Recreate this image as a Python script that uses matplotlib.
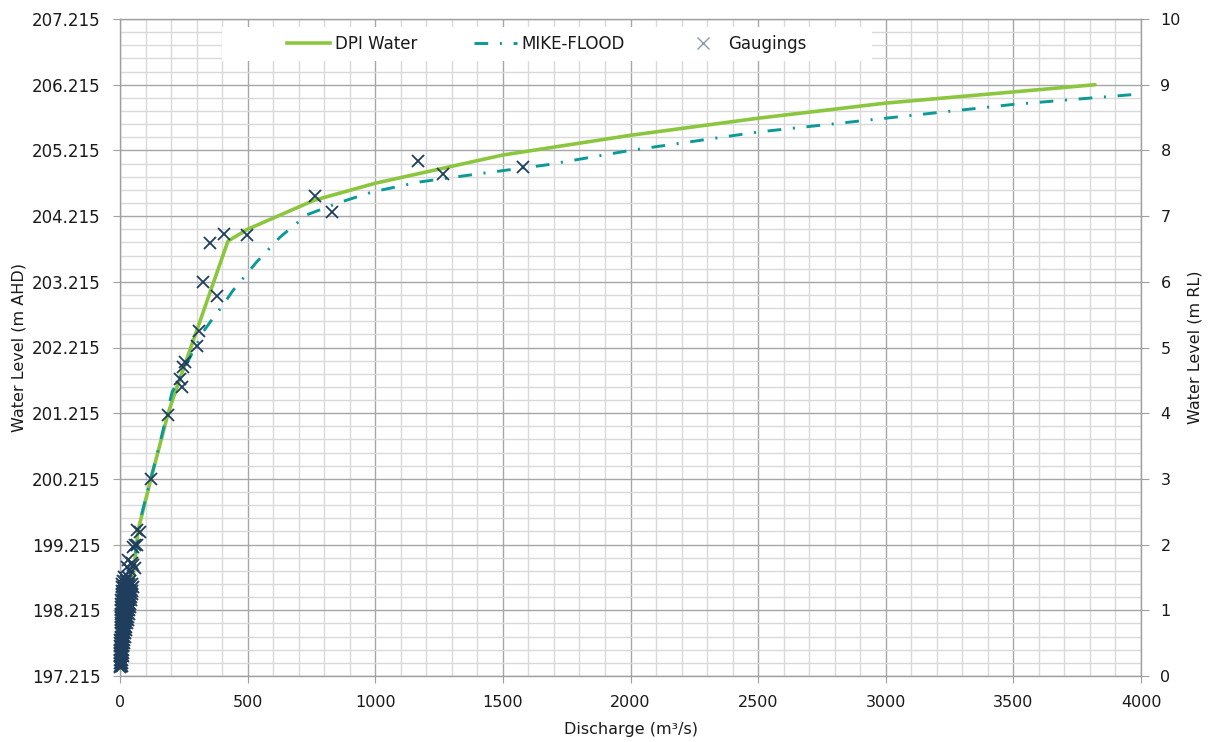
import matplotlib
matplotlib.use("Agg")
import matplotlib.pyplot as plt
from matplotlib.lines import Line2D
from matplotlib.patches import Rectangle
from matplotlib.ticker import MultipleLocator, FuncFormatter

# ---------------- data ----------------
dpi_q = [0, 2, 5, 12, 25, 40, 51, 71, 121, 188, 210, 423, 500, 760, 1000, 1500,
         2000, 2500, 3000, 3500, 3820]
dpi_rl = [0.10, 0.30, 0.50, 0.80, 1.10, 1.35, 1.50, 2.22, 3.00, 3.99, 4.25, 6.62,
          6.80, 7.24, 7.50, 7.93, 8.23, 8.49, 8.72, 8.89, 9.00]

mike_q = [0, 2, 5, 12, 25, 40, 50, 86, 157, 204, 326, 365, 404, 443, 535, 627,
          732, 862, 991, 1175, 1398, 1672, 2000, 2500, 3000, 3500, 4000]
mike_rl = [0.10, 0.30, 0.50, 0.80, 1.10, 1.40, 1.60, 2.48, 3.55, 4.32, 5.24, 5.45,
           5.65, 5.87, 6.30, 6.68, 7.02, 7.21, 7.37, 7.52, 7.64, 7.78, 8.00, 8.28,
           8.49, 8.70, 8.86]

# individual gaugings (higher flows)
gauge_q = [1578, 1266, 1169, 829, 764, 498, 407, 352, 381, 326, 309, 301, 255, 248,
           235, 244, 189, 122, 66, 78, 59, 52, 67, 31, 47, 59, 39, 51, 27, 0]
gauge_rl = [7.75, 7.64, 7.84, 7.07, 7.31, 6.71, 6.72, 6.59, 5.78, 6.00, 5.25, 5.02,
            4.78, 4.71, 4.52, 4.40, 3.97, 3.00, 2.22, 2.19, 1.99, 1.96, 1.99, 1.77,
            1.72, 1.64, 1.61, 1.69, 1.66, 0.14]

# dense cluster of low-flow gaugings
low_q = [0, 3, 6, 0, 4, 8, 0, 4, 9, 0, 5, 10, 0, 5, 11, 1, 6, 12, 1, 7, 13,
         1, 8, 15, 1, 8, 16, 2, 10, 18, 2, 11, 20, 2, 12, 22, 2, 13, 24,
         3, 10, 18, 27, 3, 11, 20, 30, 3, 12, 22, 32, 3, 13, 23, 34,
         4, 14, 25, 36, 4, 15, 26, 38, 5, 16, 28, 40, 5, 17, 30, 42,
         6, 18, 31, 44, 6, 19, 32, 46, 7, 20, 34, 48, 7, 20, 35, 50,
         8, 22, 36, 48, 10, 24, 38, 14, 30]
low_rl = [0.15, 0.15, 0.15, 0.20, 0.20, 0.20, 0.25, 0.25, 0.25, 0.30, 0.30, 0.30,
          0.35, 0.35, 0.35, 0.40, 0.40, 0.40, 0.45, 0.45, 0.45,
          0.50, 0.50, 0.50, 0.55, 0.55, 0.55, 0.60, 0.60, 0.60, 0.65, 0.65, 0.65,
          0.70, 0.70, 0.70, 0.75, 0.75, 0.75,
          0.80, 0.80, 0.80, 0.80, 0.85, 0.85, 0.85, 0.85, 0.90, 0.90, 0.90, 0.90,
          0.95, 0.95, 0.95, 0.95, 1.00, 1.00, 1.00, 1.00, 1.05, 1.05, 1.05, 1.05,
          1.10, 1.10, 1.10, 1.10, 1.15, 1.15, 1.15, 1.15, 1.20, 1.20, 1.20, 1.20,
          1.25, 1.25, 1.25, 1.25, 1.30, 1.30, 1.30, 1.30, 1.35, 1.35, 1.35, 1.35,
          1.40, 1.40, 1.40, 1.40, 1.45, 1.45, 1.45, 1.50, 1.50]

datum = 197.215
x_ticks = [0, 500, 1000, 1500, 2000, 2500, 3000, 3500, 4000]
rl_ticks = [0, 1, 2, 3, 4, 5, 6, 7, 8, 9, 10]

# ---------------- style ----------------
green = "#8CC63F"
teal = "#0B9A97"
navy = "#1F3D5C"
major_grid = "#A6A6A6"
minor_grid = "#D9D9D9"
text_col = "#1A1A1A"
dash = (0, (4.7, 4.0, 0.7, 4.0))

fig = plt.figure(figsize=(12.09, 7.42), dpi=100)
ax = fig.add_axes([120 / 1209, 66 / 742, 1021 / 1209, 657 / 742])

ax.set_xlim(0, 4000)
ax.set_ylim(0, 10)
ax.set_xticks(x_ticks)
ax.set_yticks(rl_ticks)
ax.xaxis.set_minor_locator(MultipleLocator(100))
ax.yaxis.set_minor_locator(MultipleLocator(0.2))
ax.grid(which="minor", color=minor_grid, linewidth=1.0, zorder=0)
ax.grid(which="major", color=major_grid, linewidth=1.0, zorder=0)
ax.set_axisbelow(True)
ax.yaxis.set_major_formatter(FuncFormatter(lambda v, p: f"{v + datum:.3f}"))

for s in ax.spines.values():
    s.set_color("#A0A0A0")
    s.set_linewidth(1.0)

ax.tick_params(which="minor", length=0)
ax.tick_params(axis="y", which="major", length=5, color="#A0A0A0", pad=9,
               labelsize=12, labelcolor=text_col)
ax.tick_params(axis="x", which="major", length=5, color="#A0A0A0", pad=8.5,
               labelsize=11.5, labelcolor=text_col)

ax.plot(dpi_q, dpi_rl, color=green, linewidth=2.6, zorder=3,
        solid_capstyle="round")
ax.plot(mike_q, mike_rl, color=teal, linewidth=2.1, zorder=3, linestyle=dash)
ax.plot(low_q, low_rl, linestyle="none", marker="x", markersize=8,
        markeredgewidth=1.4, color=navy, zorder=4, clip_on=False)
ax.plot(gauge_q, gauge_rl, linestyle="none", marker="x", markersize=8,
        markeredgewidth=1.3, color=navy, zorder=4, clip_on=False)

ax2 = ax.twinx()
ax2.set_ylim(0, 10)
ax2.set_yticks(rl_ticks)
ax2.tick_params(axis="y", length=6, color="#A0A0A0", pad=8, labelsize=11.5,
                labelcolor=text_col)
for s in ax2.spines.values():
    s.set_visible(False)

ax.set_xlabel("Discharge (m³/s)", fontsize=11.5, color=text_col, labelpad=9)
ax.set_ylabel("Water Level (m AHD)", fontsize=11.5, color=text_col, labelpad=4)
ax2.set_ylabel("Water Level (m RL)", fontsize=11.5, color=text_col, labelpad=5)

# legend background box
ax.add_patch(Rectangle((102 / 1021, (676 - 61) / 657), 650 / 1021, 34 / 657,
                       transform=ax.transAxes, facecolor="white",
                       edgecolor="none", zorder=5))
handles = [
    Line2D([], [], color=green, linewidth=2.6),
    Line2D([], [], color=teal, linewidth=2.1, linestyle=dash),
    Line2D([], [], color="#8A9BB0", marker="x", linestyle="none",
           markersize=8, markeredgewidth=1.0),
]
leg = ax.legend(handles, ["DPI Water", "MIKE-FLOOD", "Gaugings"], ncol=3,
                loc="center", bbox_to_anchor=(427 / 1021, (676 - 44) / 657),
                frameon=False, fontsize=12, handlelength=2.6,
                handletextpad=0.25, columnspacing=3.4)
leg.set_zorder(6)
for t in leg.get_texts():
    t.set_color(text_col)

fig.savefig("out.png", dpi=100)
